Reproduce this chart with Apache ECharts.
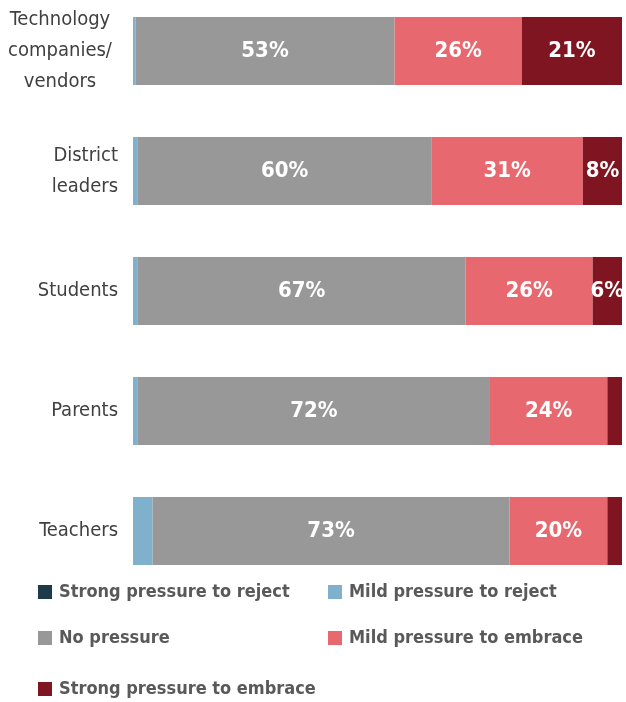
<!DOCTYPE html>
<html>
<head>
<meta charset="utf-8">
<script src="https://cdn.jsdelivr.net/npm/echarts@6/dist/echarts.min.js"></script>
<style>
  html, body { margin: 0; padding: 0; background: #fff; overflow: hidden; }
  /* the canvas starts a little above the page so the first row sits close to the top edge */
  #chart { width: 626px; height: 711px; margin-top: -9px; }
</style>
</head>
<body>
<div id="chart"></div>
<script>
// Groups asked about, top to bottom
const categories = ['Technology\ncompanies/\nvendors', 'District\nleaders', 'Students', 'Parents', 'Teachers'];

// Share of respondents (%) for each level of pressure
const strongReject  = [0, 0, 0, 0, 0];
const mildReject    = [0.5, 1, 1, 1, 4];
const noPressure    = [53, 60, 67, 72, 73];
const mildEmbrace   = [26, 31, 26, 24, 20];
const strongEmbrace = [21, 8, 6, 3.5, 3];

const seriesNames = [
  'Strong pressure to reject',
  'Mild pressure to reject',
  'No pressure',
  'Mild pressure to embrace',
  'Strong pressure to embrace'
];
const seriesColors = ['#1e3a4a', '#7fb1cd', '#989898', '#e8686f', '#7e1520'];
const seriesData = [strongReject, mildReject, noPressure, mildEmbrace, strongEmbrace];
// segments narrower than this carry no label
const minLabelValue = [100, 100, 5, 5, 5];

const fontCond = '"DejaVu Sans Condensed", "Liberation Sans Narrow", sans-serif';

const chart = echarts.init(document.getElementById('chart'), null, { renderer: 'canvas' });

const series = seriesNames.map((name, i) => ({
  name: name,
  type: 'bar',
  stack: 'total',
  barWidth: 68,
  data: seriesData[i],
  itemStyle: { color: seriesColors[i] },
  emphasis: { disabled: true },
  label: {
    show: true,
    position: 'inside',
    color: '#ffffff',
    fontFamily: fontCond,
    fontWeight: 'bold',
    fontSize: 22,
    formatter: p => (p.value >= minLabelValue[i] ? p.value + '%' : '')
  }
}));

// legend placement: two columns, three rows
const legendSlots = [
  { left: 38, top: 592 },   // Strong pressure to reject
  { left: 328, top: 592 },  // Mild pressure to reject
  { left: 38, top: 638 },   // No pressure
  { left: 328, top: 638 },  // Mild pressure to embrace
  { left: 38, top: 689 }    // Strong pressure to embrace
];
const legends = seriesNames.map((name, i) => ({
  left: legendSlots[i].left,
  top: legendSlots[i].top,
  padding: 0,
  itemWidth: 14,
  itemHeight: 14,
  icon: 'rect',
  selectedMode: false,
  data: [name],
  textStyle: {
    color: '#595959',
    fontFamily: fontCond,
    fontWeight: 'bold',
    fontSize: 18,
    padding: [0, 0, 0, 2]
  }
}));

const labelText = {
  color: '#404040',
  fontFamily: fontCond,
  fontSize: 20,
  lineHeight: 31
};

chart.setOption({
  animation: false,
  grid: { left: 133, right: 4, top: 0, height: 600, containLabel: false, outerBoundsMode: 'none' },
  xAxis: {
    type: 'value',
    min: 0,
    max: 100,
    show: false
  },
  yAxis: {
    type: 'category',
    inverse: true,
    data: categories,
    axisLine: { show: false },
    axisTick: { show: false },
    axisLabel: Object.assign({
      margin: 15,
      align: 'right',
      // the three-line label is centred line by line, the others are flush right
      formatter: v => (v.split('\n').length > 2
        ? v.split('\n').map(s => '{c|' + s + '}').join('\n')
        : v),
      rich: { c: Object.assign({ width: 116, align: 'center' }, labelText) }
    }, labelText)
  },
  legend: legends,
  series: series
});
</script>
</body>
</html>
